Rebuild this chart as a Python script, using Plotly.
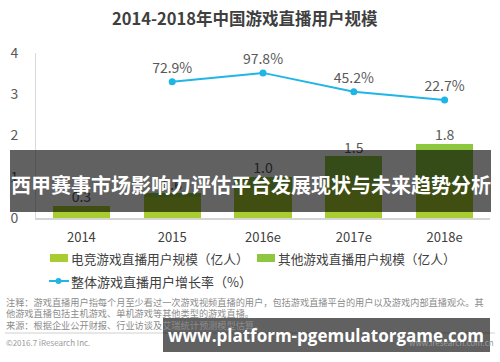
import plotly.graph_objects as go

categories = ["2014", "2015", "2016e", "2017e", "2018e"]
esports_users = [0.3, 0.5, 0.7, 0.8, 0.8]
other_users = [0.0, 0.1, 0.3, 0.7, 1.0]
total_labels = ["0.3", "0.6", "1.0", "1.5", "1.8"]
growth_cats = ["2015", "2016e", "2017e", "2018e"]
growth_rate = [72.9, 97.8, 45.2, 22.7]
y_ticks = [0, 1, 2, 3, 4]

FONT = "Noto Sans CJK SC, Noto Sans, sans-serif"
W, H = 500, 362
L, R, T, B = 36, 490, 53, 218  # plot area in pixels


def px(x):
    return (x - L) / (R - L)


def py(y):
    return (B - y) / (B - T)


totals = [a + b for a, b in zip(esports_users, other_users)]

fig = go.Figure()
fig.add_trace(go.Bar(x=categories, y=esports_users, name="电竞游戏直播用户规模（亿人）",
                     marker=dict(color="#a9cd31", line=dict(width=0)), width=0.63))
fig.add_trace(go.Bar(x=categories, y=other_users, name="其他游戏直播用户规模（亿人）",
                     marker=dict(color="#8dc63f", line=dict(width=0)), width=0.63))
fig.add_trace(go.Scatter(x=categories, y=totals, mode="text", text=total_labels,
                         textposition="top center",
                         textfont=dict(size=14, color="#595959", family=FONT),
                         showlegend=False, hoverinfo="skip"))
fig.add_trace(go.Scatter(x=growth_cats, y=growth_rate, yaxis="y2", mode="lines+markers+text",
                         name="整体游戏直播用户增长率（%）",
                         text=[f"{v}%" for v in growth_rate], textposition="top center",
                         textfont=dict(size=14, color="#595959", family=FONT),
                         line=dict(color="#1fb6e6", width=2),
                         marker=dict(color="#1fb6e6", size=7)))

fig.update_layout(
    width=W, height=H,
    margin=dict(l=L, r=W - R, t=T, b=H - B),
    barmode="stack",
    paper_bgcolor="white", plot_bgcolor="white",
    showlegend=False,
    font=dict(family=FONT, color="#404040"),
    xaxis=dict(type="category", range=[-0.5, 4.5], showgrid=False,
               showline=True, linecolor="#d4d4d4", linewidth=2,
               ticks="", tickfont=dict(size=13, color="#404040"), ticklabelstandoff=6),
    yaxis=dict(range=[0, 4], tickvals=y_ticks, showgrid=False, zeroline=False,
               showline=True, linecolor="#d9d9d9", linewidth=1,
               ticks="", tickfont=dict(size=14, color="#595959"), ticklabelstandoff=14),
    yaxis2=dict(overlaying="y", range=[-305, 153], visible=False),
)

ann = []
shapes = []


def text(x, y, t, size, color, xanchor="left", family=FONT):
    ann.append(dict(x=px(x), y=py(y), xref="paper", yref="paper", showarrow=False,
                    xanchor=xanchor, yanchor="middle", text=t,
                    font=dict(size=size, color=color, family=family)))


# title
text(245, 18, "<b>2014-2018年中国游戏直播用户规模</b>", 16.5, "#3f3f3f", "center")

# legend
shapes.append(dict(type="rect", xref="paper", yref="paper", x0=px(50), x1=px(68),
                   y0=py(262), y1=py(254), fillcolor="#a9cd31", line=dict(width=0)))
text(69, 258, "电竞游戏直播用户规模（亿人）", 12.7, "#404040")
shapes.append(dict(type="rect", xref="paper", yref="paper", x0=px(257), x1=px(275),
                   y0=py(262), y1=py(254), fillcolor="#8dc63f", line=dict(width=0)))
text(276, 258, "其他游戏直播用户规模（亿人）", 12.7, "#404040")
shapes.append(dict(type="line", xref="paper", yref="paper", x0=px(49), x1=px(69),
                   y0=py(281), y1=py(281), line=dict(color="#1fb6e6", width=2)))
shapes.append(dict(type="circle", xref="paper", yref="paper", x0=px(55.5), x1=px(61.5),
                   y0=py(284), y1=py(278), fillcolor="#1fb6e6", line=dict(width=0)))
text(69, 281, "整体游戏直播用户增长率（%）", 13, "#404040")

# notes
notes = [
    (302, "注释：游戏直播用户指每个月至少看过一次游戏视频直播的用户，包括游戏直播平台的用户以及游戏内部直播观众。其"),
    (313, "他游戏直播包括主机游戏、单机游戏等其他类型的游戏直播。"),
    (325, "来源：根据企业公开财报、行业访谈及艾瑞统计预测模型估算。"),
]
for yy, t in notes:
    text(4, yy, t, 9.2, "#8c8c8c")
shapes.append(dict(type="line", xref="paper", yref="paper", x0=px(5), x1=px(495),
                   y0=py(333), y1=py(333), line=dict(color="#d0d0d0", width=1)))
text(4, 342, "©2016.7 iResearch Inc.", 8, "#9a9a9a")
text(496, 342, "www.iresearch.com.cn", 8, "#9a9a9a", "right")

# overlay banners
shapes.append(dict(type="rect", xref="paper", yref="paper", x0=px(10), x1=px(491),
                   y0=py(212), y1=py(150), fillcolor="rgba(0,0,0,0.62)",
                   line=dict(width=0), layer="above"))
text(251, 184, "<b>西甲赛事市场影响力评估平台发展现状与未来趋势分析</b>", 20, "white", "center")
shapes.append(dict(type="rect", xref="paper", yref="paper", x0=px(163), x1=px(490),
                   y0=py(352), y1=py(318), fillcolor="rgba(0,0,0,0.62)",
                   line=dict(width=0), layer="above"))
text(326, 335, "<b>www.platform-pgemulatorgame.com</b>", 17, "white", "center",
     family="Open Sans, DejaVu Sans, sans-serif")

fig.update_layout(annotations=ann, shapes=shapes)
fig.write_html("out.html", config={"displayModeBar": False},
               post_script="document.body.style.margin='0';")
